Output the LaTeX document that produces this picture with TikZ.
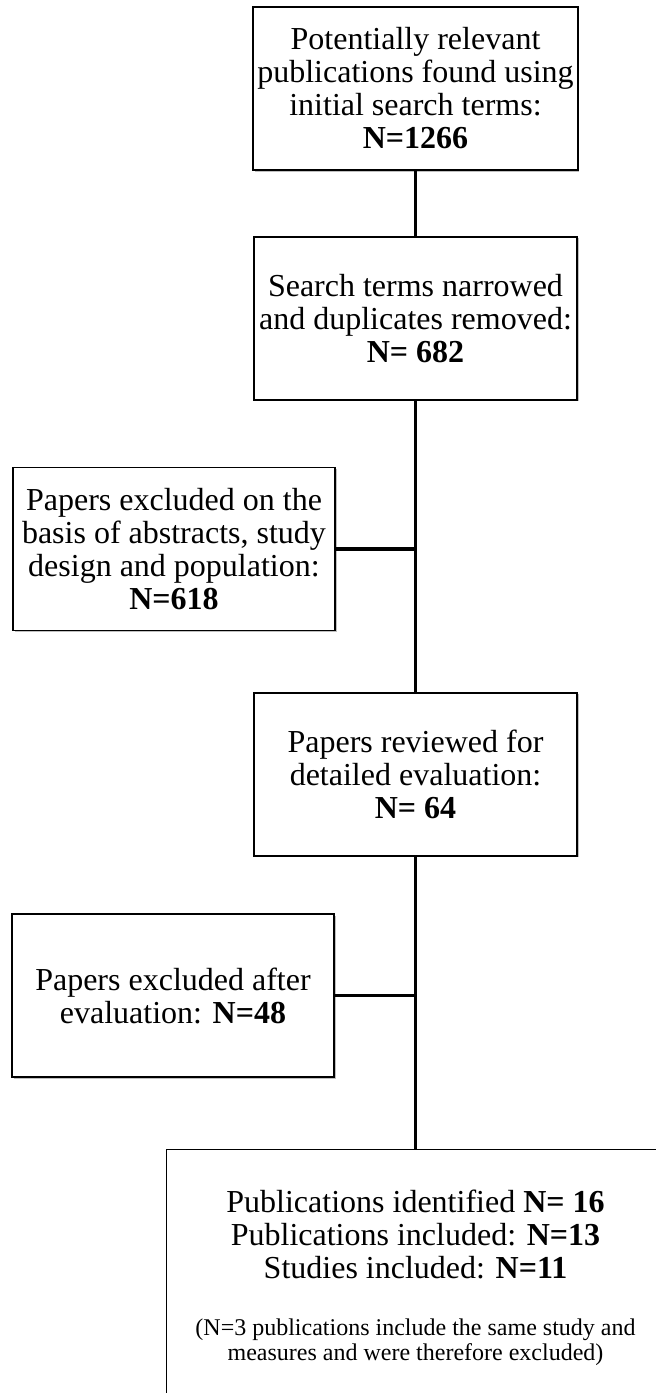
\documentclass[tikz,border=0pt]{standalone}
\usepackage{fontspec}
\setmainfont{Liberation Serif}
\usepackage{tikz}
\usetikzlibrary{positioning, shadows}
\tikzset{
  stage/.style ={draw=black, line width=0.9pt, fill=white, align=center,
                 font=\fontsize{16}{16.5}\selectfont, inner sep=2pt,
                 minimum width=161.5pt, minimum height=81.5pt,
                 drop shadow={shadow xshift=0.8pt, shadow yshift=-0.8pt,
                              fill=black, opacity=0.25}},
  excl/.style  ={stage, minimum width=161pt},
  final/.style ={stage, minimum width=249pt, minimum height=128pt},
  link/.style  ={line width=1.6pt, draw=black},
  note/.style  ={font=\fontsize{12}{12.5}\selectfont}
}

\begin{document}
\begin{tikzpicture}[x=0.5pt, y=-0.5pt]
  \clip (0,0) rectangle (656,1393);

  % main column
  \node[stage] (found) at (415.5,88.5)
    {Potentially relevant\\publications found using\\initial search terms:\\\textbf{N=1266}};
  \node[stage, below=32.5pt of found] (narrow)
    {Search terms narrowed\\and duplicates removed:\\\textbf{N= 682}};
  \node[stage, below=145.5pt of narrow] (review)
    {Papers reviewed for\\detailed evaluation:\\\textbf{N= 64}};
  \node[final, below=146pt of review] (incl)
    {Publications identified \textbf{N= 16}\\Publications included: \textbf{N=13}\\Studies included: \textbf{N=11}\\[12pt]
     {\fontsize{12}{12.5}\selectfont (N=3 publications include the same study and}\\[-4pt]
     {\fontsize{12}{12.5}\selectfont measures and were therefore excluded)}};

  % exclusions
  \node[excl] (abstr) at (174,549)
    {Papers excluded on the\\basis of abstracts, study\\design and population:\\\textbf{N=618}};
  \node[excl] (evalx) at (173,995.5)
    {Papers excluded after\\evaluation: \textbf{N=48}};

  \draw[link] (found)  -- (narrow);
  \draw[link] (narrow) -- (review);
  \draw[link] (review) -- (incl);
  \draw[link] (abstr.east) -- (abstr.east -| narrow.south);
  \draw[link] (evalx.east) -- (evalx.east -| review.south);
\end{tikzpicture}
\end{document}
